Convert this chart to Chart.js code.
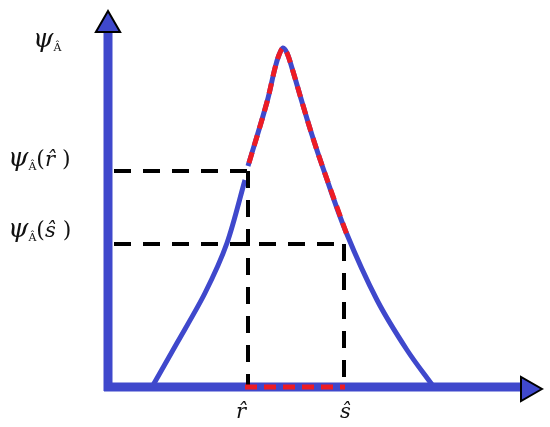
<!DOCTYPE html>
<html>
<head>
<meta charset="utf-8">
<script src="https://cdn.jsdelivr.net/npm/chart.js@4"></script>
<style>
  body { margin: 0; background: #fff; }
  #wrap { position: relative; width: 550px; height: 427px; }
  canvas { position: absolute; left: 0; top: 0; }
  .lbl { position: absolute; font-family: "DejaVu Serif", "Liberation Serif", serif; color: #111; white-space: nowrap; line-height: 1; }
  .psi { font-style: italic; font-size: 26px; }
  .sub { font-size: 11px; position: relative; top: 4px; }
  .par { font-size: 22px; }
  .hat { font-style: italic; font-size: 21px; }
</style>
</head>
<body>
<div id="wrap">
  <canvas id="c" width="550" height="427"></canvas>
  <div class="lbl" style="left:33px; top:25px;"><span class="psi">ψ</span><span class="sub">Â</span></div>
  <div class="lbl" style="left:8px; top:144px;"><span class="psi">ψ</span><span class="sub">Â</span><span class="par">(</span><span class="hat">r̂</span><span class="par"> )</span></div>
  <div class="lbl" style="left:8px; top:215px;"><span class="psi">ψ</span><span class="sub">Â</span><span class="par">(</span><span class="hat">ŝ</span><span class="par"> )</span></div>
  <div class="lbl hat" style="left:236px; top:401px;">r̂</div>
  <div class="lbl hat" style="left:340px; top:401px;">ŝ</div>
</div>
<script>
// values measured from the origin where the two axes meet
const curveLeft = [[44, 0], [69, 44], [97, 94], [119, 144], [137, 207]];
const curveRight = [[140, 221], [159, 285], [167, 319], [171, 332], [175, 339], [179, 334],
                    [184, 319], [194, 285], [204, 252], [215, 219], [238, 155],
                    [269, 87], [299, 37], [325, 1]];
const highlight = [[141, 224], [159, 285], [167, 319], [171, 332], [175, 339], [179, 334],
                   [184, 319], [194, 285], [204, 252], [215, 219], [239, 152]];
const rHat = 140, sHat = 236;
const psiR = 216, psiS = 143;
const dashStart = 6;
const xAxisLine = [[-4, 0], [416, 0]];
const yAxisLine = [[0, -4], [0, 355]];
const arrowUp = [[0, 362]];
const arrowRight = [[420, -2]];

const BLUE = "#3f48cc";
const RED = "#ed1c24";

const pts = arr => arr.map(p => ({ x: p[0], y: p[1] }));

function line(data, color, width, dash, order, tension) {
    return {
        data: pts(data),
        showLine: true,
        borderColor: color,
        borderWidth: width,
        borderDash: dash || [],
        pointRadius: 0,
        tension: tension || 0,
        order: order
    };
}

function arrow(data, rot) {
    return {
        data: pts(data),
        showLine: false,
        pointStyle: "triangle",
        pointRadius: 14,
        pointRotation: rot,
        pointBackgroundColor: BLUE,
        pointBorderColor: "#000",
        pointBorderWidth: 2,
        order: 0
    };
}

new Chart(document.getElementById("c"), {
    type: "scatter",
    data: {
        datasets: [
            line(xAxisLine, BLUE, 9, null, 6),
            line(yAxisLine, BLUE, 9, null, 6),
            line(curveLeft, BLUE, 5, null, 5, 0.3),
            line(curveRight, BLUE, 5, null, 5, 0.35),
            line([[dashStart, psiR], [rHat, psiR]], "#000", 4, [17, 12], 4),
            line([[rHat, psiR], [rHat, 2]], "#000", 4, [17, 12], 4),
            line([[dashStart, psiS], [sHat, psiS]], "#000", 4, [17, 12], 4),
            line([[sHat, psiS], [sHat, 2]], "#000", 4, [17, 12], 4),
            line(highlight, RED, 5, [11, 7], 2, 0.35),
            line([[rHat - 3, 0], [sHat + 1, 0]], RED, 5, [12, 7], 2),
            arrow(arrowUp, 0),
            arrow(arrowRight, 90)
        ]
    },
    options: {
        responsive: false,
        animation: false,
        events: [],
        layout: { padding: 0, autoPadding: false },
        plugins: { legend: { display: false }, tooltip: { enabled: false } },
        scales: {
            x: { type: "linear", min: -108, max: 442, display: false },
            y: { type: "linear", min: -40, max: 387, display: false }
        }
    }
});
</script>
</body>
</html>
